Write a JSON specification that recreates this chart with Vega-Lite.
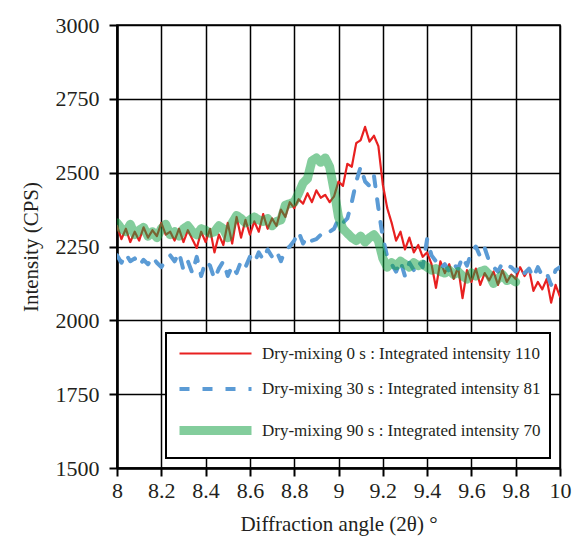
{
  "$schema": "https://vega.github.io/schema/vega-lite/v6.json",
  "width": 443,
  "height": 443,
  "autosize": {"type": "none"},
  "padding": {"left": 117, "top": 25, "right": 12, "bottom": 84},
  "background": "white",
  "config": {
    "font": "'Liberation Serif', 'Times New Roman', 'DejaVu Serif', serif",
    "view": {"stroke": "black", "strokeWidth": 1.5},
    "axis": {
      "grid": true, "gridColor": "black", "gridWidth": 1.5, "gridOpacity": 1,
      "domainColor": "black", "domainWidth": 2.5,
      "tickColor": "black", "tickWidth": 2, "tickSize": 8,
      "labelFont": "'Liberation Serif', 'Times New Roman', 'DejaVu Serif', serif", "labelFontSize": 22, "labelColor": "#231f20",
      "titleFont": "'Liberation Serif', 'Times New Roman', 'DejaVu Serif', serif", "titleFontSize": 21, "titleFontWeight": "normal", "titleColor": "#231f20"
    },
    "legend": {
      "orient": "bottom-right", "offset": 10, "padding": 9,
      "strokeColor": "black", "strokeWidth": 2, "fillColor": "white",
      "symbolType": "M-1,0H6.2", "symbolSize": 400, "labelOffset": 58,
      "labelFont": "'Liberation Serif', 'Times New Roman', 'DejaVu Serif', serif", "labelFontSize": 17, "labelColor": "#231f20",
      "rowPadding": 15, "labelLimit": 400
    }
  },
  "data": {"values": [
    {"s": "Dry-mixing 0 s : Integrated intensity 110", "x": 8.00, "y": 2320},
    {"s": "Dry-mixing 0 s : Integrated intensity 110", "x": 8.02, "y": 2275},
    {"s": "Dry-mixing 0 s : Integrated intensity 110", "x": 8.04, "y": 2310},
    {"s": "Dry-mixing 0 s : Integrated intensity 110", "x": 8.06, "y": 2265},
    {"s": "Dry-mixing 0 s : Integrated intensity 110", "x": 8.08, "y": 2300},
    {"s": "Dry-mixing 0 s : Integrated intensity 110", "x": 8.10, "y": 2270},
    {"s": "Dry-mixing 0 s : Integrated intensity 110", "x": 8.12, "y": 2315},
    {"s": "Dry-mixing 0 s : Integrated intensity 110", "x": 8.14, "y": 2280},
    {"s": "Dry-mixing 0 s : Integrated intensity 110", "x": 8.16, "y": 2305},
    {"s": "Dry-mixing 0 s : Integrated intensity 110", "x": 8.18, "y": 2285},
    {"s": "Dry-mixing 0 s : Integrated intensity 110", "x": 8.20, "y": 2330},
    {"s": "Dry-mixing 0 s : Integrated intensity 110", "x": 8.22, "y": 2290},
    {"s": "Dry-mixing 0 s : Integrated intensity 110", "x": 8.24, "y": 2300},
    {"s": "Dry-mixing 0 s : Integrated intensity 110", "x": 8.26, "y": 2270},
    {"s": "Dry-mixing 0 s : Integrated intensity 110", "x": 8.28, "y": 2310},
    {"s": "Dry-mixing 0 s : Integrated intensity 110", "x": 8.30, "y": 2265},
    {"s": "Dry-mixing 0 s : Integrated intensity 110", "x": 8.32, "y": 2305},
    {"s": "Dry-mixing 0 s : Integrated intensity 110", "x": 8.34, "y": 2275},
    {"s": "Dry-mixing 0 s : Integrated intensity 110", "x": 8.36, "y": 2245},
    {"s": "Dry-mixing 0 s : Integrated intensity 110", "x": 8.38, "y": 2300},
    {"s": "Dry-mixing 0 s : Integrated intensity 110", "x": 8.40, "y": 2265},
    {"s": "Dry-mixing 0 s : Integrated intensity 110", "x": 8.42, "y": 2310},
    {"s": "Dry-mixing 0 s : Integrated intensity 110", "x": 8.44, "y": 2230},
    {"s": "Dry-mixing 0 s : Integrated intensity 110", "x": 8.46, "y": 2290},
    {"s": "Dry-mixing 0 s : Integrated intensity 110", "x": 8.48, "y": 2255},
    {"s": "Dry-mixing 0 s : Integrated intensity 110", "x": 8.50, "y": 2330},
    {"s": "Dry-mixing 0 s : Integrated intensity 110", "x": 8.52, "y": 2260},
    {"s": "Dry-mixing 0 s : Integrated intensity 110", "x": 8.54, "y": 2350},
    {"s": "Dry-mixing 0 s : Integrated intensity 110", "x": 8.56, "y": 2280},
    {"s": "Dry-mixing 0 s : Integrated intensity 110", "x": 8.58, "y": 2340},
    {"s": "Dry-mixing 0 s : Integrated intensity 110", "x": 8.60, "y": 2290},
    {"s": "Dry-mixing 0 s : Integrated intensity 110", "x": 8.62, "y": 2335},
    {"s": "Dry-mixing 0 s : Integrated intensity 110", "x": 8.64, "y": 2300},
    {"s": "Dry-mixing 0 s : Integrated intensity 110", "x": 8.66, "y": 2360},
    {"s": "Dry-mixing 0 s : Integrated intensity 110", "x": 8.68, "y": 2310},
    {"s": "Dry-mixing 0 s : Integrated intensity 110", "x": 8.70, "y": 2345},
    {"s": "Dry-mixing 0 s : Integrated intensity 110", "x": 8.72, "y": 2320},
    {"s": "Dry-mixing 0 s : Integrated intensity 110", "x": 8.74, "y": 2375},
    {"s": "Dry-mixing 0 s : Integrated intensity 110", "x": 8.76, "y": 2350},
    {"s": "Dry-mixing 0 s : Integrated intensity 110", "x": 8.78, "y": 2400},
    {"s": "Dry-mixing 0 s : Integrated intensity 110", "x": 8.80, "y": 2380},
    {"s": "Dry-mixing 0 s : Integrated intensity 110", "x": 8.82, "y": 2410},
    {"s": "Dry-mixing 0 s : Integrated intensity 110", "x": 8.84, "y": 2395},
    {"s": "Dry-mixing 0 s : Integrated intensity 110", "x": 8.86, "y": 2430},
    {"s": "Dry-mixing 0 s : Integrated intensity 110", "x": 8.88, "y": 2400},
    {"s": "Dry-mixing 0 s : Integrated intensity 110", "x": 8.90, "y": 2440},
    {"s": "Dry-mixing 0 s : Integrated intensity 110", "x": 8.92, "y": 2415},
    {"s": "Dry-mixing 0 s : Integrated intensity 110", "x": 8.94, "y": 2425},
    {"s": "Dry-mixing 0 s : Integrated intensity 110", "x": 8.96, "y": 2400},
    {"s": "Dry-mixing 0 s : Integrated intensity 110", "x": 8.98, "y": 2420},
    {"s": "Dry-mixing 0 s : Integrated intensity 110", "x": 9.00, "y": 2470},
    {"s": "Dry-mixing 0 s : Integrated intensity 110", "x": 9.02, "y": 2455},
    {"s": "Dry-mixing 0 s : Integrated intensity 110", "x": 9.04, "y": 2530},
    {"s": "Dry-mixing 0 s : Integrated intensity 110", "x": 9.06, "y": 2520},
    {"s": "Dry-mixing 0 s : Integrated intensity 110", "x": 9.08, "y": 2600},
    {"s": "Dry-mixing 0 s : Integrated intensity 110", "x": 9.10, "y": 2610},
    {"s": "Dry-mixing 0 s : Integrated intensity 110", "x": 9.12, "y": 2655},
    {"s": "Dry-mixing 0 s : Integrated intensity 110", "x": 9.14, "y": 2605},
    {"s": "Dry-mixing 0 s : Integrated intensity 110", "x": 9.16, "y": 2625},
    {"s": "Dry-mixing 0 s : Integrated intensity 110", "x": 9.18, "y": 2590},
    {"s": "Dry-mixing 0 s : Integrated intensity 110", "x": 9.20, "y": 2460},
    {"s": "Dry-mixing 0 s : Integrated intensity 110", "x": 9.22, "y": 2380},
    {"s": "Dry-mixing 0 s : Integrated intensity 110", "x": 9.24, "y": 2330},
    {"s": "Dry-mixing 0 s : Integrated intensity 110", "x": 9.26, "y": 2270},
    {"s": "Dry-mixing 0 s : Integrated intensity 110", "x": 9.28, "y": 2300},
    {"s": "Dry-mixing 0 s : Integrated intensity 110", "x": 9.30, "y": 2240},
    {"s": "Dry-mixing 0 s : Integrated intensity 110", "x": 9.32, "y": 2280},
    {"s": "Dry-mixing 0 s : Integrated intensity 110", "x": 9.34, "y": 2230},
    {"s": "Dry-mixing 0 s : Integrated intensity 110", "x": 9.36, "y": 2255},
    {"s": "Dry-mixing 0 s : Integrated intensity 110", "x": 9.38, "y": 2215},
    {"s": "Dry-mixing 0 s : Integrated intensity 110", "x": 9.40, "y": 2230},
    {"s": "Dry-mixing 0 s : Integrated intensity 110", "x": 9.42, "y": 2190},
    {"s": "Dry-mixing 0 s : Integrated intensity 110", "x": 9.44, "y": 2110},
    {"s": "Dry-mixing 0 s : Integrated intensity 110", "x": 9.46, "y": 2200},
    {"s": "Dry-mixing 0 s : Integrated intensity 110", "x": 9.48, "y": 2160},
    {"s": "Dry-mixing 0 s : Integrated intensity 110", "x": 9.50, "y": 2190},
    {"s": "Dry-mixing 0 s : Integrated intensity 110", "x": 9.52, "y": 2140},
    {"s": "Dry-mixing 0 s : Integrated intensity 110", "x": 9.54, "y": 2180},
    {"s": "Dry-mixing 0 s : Integrated intensity 110", "x": 9.56, "y": 2075},
    {"s": "Dry-mixing 0 s : Integrated intensity 110", "x": 9.58, "y": 2170},
    {"s": "Dry-mixing 0 s : Integrated intensity 110", "x": 9.60, "y": 2130},
    {"s": "Dry-mixing 0 s : Integrated intensity 110", "x": 9.62, "y": 2175},
    {"s": "Dry-mixing 0 s : Integrated intensity 110", "x": 9.64, "y": 2120},
    {"s": "Dry-mixing 0 s : Integrated intensity 110", "x": 9.66, "y": 2160},
    {"s": "Dry-mixing 0 s : Integrated intensity 110", "x": 9.68, "y": 2135},
    {"s": "Dry-mixing 0 s : Integrated intensity 110", "x": 9.70, "y": 2165},
    {"s": "Dry-mixing 0 s : Integrated intensity 110", "x": 9.72, "y": 2120},
    {"s": "Dry-mixing 0 s : Integrated intensity 110", "x": 9.74, "y": 2170},
    {"s": "Dry-mixing 0 s : Integrated intensity 110", "x": 9.76, "y": 2130},
    {"s": "Dry-mixing 0 s : Integrated intensity 110", "x": 9.78, "y": 2155},
    {"s": "Dry-mixing 0 s : Integrated intensity 110", "x": 9.80, "y": 2140},
    {"s": "Dry-mixing 0 s : Integrated intensity 110", "x": 9.82, "y": 2180},
    {"s": "Dry-mixing 0 s : Integrated intensity 110", "x": 9.84, "y": 2150},
    {"s": "Dry-mixing 0 s : Integrated intensity 110", "x": 9.86, "y": 2175},
    {"s": "Dry-mixing 0 s : Integrated intensity 110", "x": 9.88, "y": 2100},
    {"s": "Dry-mixing 0 s : Integrated intensity 110", "x": 9.90, "y": 2130},
    {"s": "Dry-mixing 0 s : Integrated intensity 110", "x": 9.92, "y": 2105},
    {"s": "Dry-mixing 0 s : Integrated intensity 110", "x": 9.94, "y": 2140},
    {"s": "Dry-mixing 0 s : Integrated intensity 110", "x": 9.96, "y": 2060},
    {"s": "Dry-mixing 0 s : Integrated intensity 110", "x": 9.98, "y": 2120},
    {"s": "Dry-mixing 0 s : Integrated intensity 110", "x": 10.00, "y": 2080},
    {"s": "Dry-mixing 30 s : Integrated intensity 81", "x": 8.00, "y": 2220},
    {"s": "Dry-mixing 30 s : Integrated intensity 81", "x": 8.02, "y": 2195},
    {"s": "Dry-mixing 30 s : Integrated intensity 81", "x": 8.04, "y": 2225},
    {"s": "Dry-mixing 30 s : Integrated intensity 81", "x": 8.06, "y": 2200},
    {"s": "Dry-mixing 30 s : Integrated intensity 81", "x": 8.08, "y": 2210},
    {"s": "Dry-mixing 30 s : Integrated intensity 81", "x": 8.10, "y": 2185},
    {"s": "Dry-mixing 30 s : Integrated intensity 81", "x": 8.12, "y": 2205},
    {"s": "Dry-mixing 30 s : Integrated intensity 81", "x": 8.14, "y": 2190},
    {"s": "Dry-mixing 30 s : Integrated intensity 81", "x": 8.16, "y": 2215},
    {"s": "Dry-mixing 30 s : Integrated intensity 81", "x": 8.18, "y": 2195},
    {"s": "Dry-mixing 30 s : Integrated intensity 81", "x": 8.20, "y": 2180},
    {"s": "Dry-mixing 30 s : Integrated intensity 81", "x": 8.22, "y": 2205},
    {"s": "Dry-mixing 30 s : Integrated intensity 81", "x": 8.24, "y": 2220},
    {"s": "Dry-mixing 30 s : Integrated intensity 81", "x": 8.26, "y": 2200},
    {"s": "Dry-mixing 30 s : Integrated intensity 81", "x": 8.28, "y": 2230},
    {"s": "Dry-mixing 30 s : Integrated intensity 81", "x": 8.30, "y": 2170},
    {"s": "Dry-mixing 30 s : Integrated intensity 81", "x": 8.32, "y": 2200},
    {"s": "Dry-mixing 30 s : Integrated intensity 81", "x": 8.34, "y": 2160},
    {"s": "Dry-mixing 30 s : Integrated intensity 81", "x": 8.36, "y": 2215},
    {"s": "Dry-mixing 30 s : Integrated intensity 81", "x": 8.38, "y": 2150},
    {"s": "Dry-mixing 30 s : Integrated intensity 81", "x": 8.40, "y": 2200},
    {"s": "Dry-mixing 30 s : Integrated intensity 81", "x": 8.42, "y": 2185},
    {"s": "Dry-mixing 30 s : Integrated intensity 81", "x": 8.44, "y": 2140},
    {"s": "Dry-mixing 30 s : Integrated intensity 81", "x": 8.46, "y": 2175},
    {"s": "Dry-mixing 30 s : Integrated intensity 81", "x": 8.48, "y": 2200},
    {"s": "Dry-mixing 30 s : Integrated intensity 81", "x": 8.50, "y": 2150},
    {"s": "Dry-mixing 30 s : Integrated intensity 81", "x": 8.52, "y": 2185},
    {"s": "Dry-mixing 30 s : Integrated intensity 81", "x": 8.54, "y": 2160},
    {"s": "Dry-mixing 30 s : Integrated intensity 81", "x": 8.56, "y": 2200},
    {"s": "Dry-mixing 30 s : Integrated intensity 81", "x": 8.58, "y": 2180},
    {"s": "Dry-mixing 30 s : Integrated intensity 81", "x": 8.60, "y": 2215},
    {"s": "Dry-mixing 30 s : Integrated intensity 81", "x": 8.62, "y": 2195},
    {"s": "Dry-mixing 30 s : Integrated intensity 81", "x": 8.64, "y": 2230},
    {"s": "Dry-mixing 30 s : Integrated intensity 81", "x": 8.66, "y": 2205},
    {"s": "Dry-mixing 30 s : Integrated intensity 81", "x": 8.68, "y": 2240},
    {"s": "Dry-mixing 30 s : Integrated intensity 81", "x": 8.70, "y": 2215},
    {"s": "Dry-mixing 30 s : Integrated intensity 81", "x": 8.72, "y": 2235},
    {"s": "Dry-mixing 30 s : Integrated intensity 81", "x": 8.74, "y": 2200},
    {"s": "Dry-mixing 30 s : Integrated intensity 81", "x": 8.76, "y": 2240},
    {"s": "Dry-mixing 30 s : Integrated intensity 81", "x": 8.78, "y": 2250},
    {"s": "Dry-mixing 30 s : Integrated intensity 81", "x": 8.80, "y": 2270},
    {"s": "Dry-mixing 30 s : Integrated intensity 81", "x": 8.82, "y": 2300},
    {"s": "Dry-mixing 30 s : Integrated intensity 81", "x": 8.84, "y": 2260},
    {"s": "Dry-mixing 30 s : Integrated intensity 81", "x": 8.86, "y": 2285},
    {"s": "Dry-mixing 30 s : Integrated intensity 81", "x": 8.88, "y": 2270},
    {"s": "Dry-mixing 30 s : Integrated intensity 81", "x": 8.90, "y": 2275},
    {"s": "Dry-mixing 30 s : Integrated intensity 81", "x": 8.92, "y": 2290},
    {"s": "Dry-mixing 30 s : Integrated intensity 81", "x": 8.94, "y": 2285},
    {"s": "Dry-mixing 30 s : Integrated intensity 81", "x": 8.96, "y": 2300},
    {"s": "Dry-mixing 30 s : Integrated intensity 81", "x": 8.98, "y": 2310},
    {"s": "Dry-mixing 30 s : Integrated intensity 81", "x": 9.00, "y": 2345},
    {"s": "Dry-mixing 30 s : Integrated intensity 81", "x": 9.02, "y": 2330},
    {"s": "Dry-mixing 30 s : Integrated intensity 81", "x": 9.04, "y": 2345},
    {"s": "Dry-mixing 30 s : Integrated intensity 81", "x": 9.06, "y": 2400},
    {"s": "Dry-mixing 30 s : Integrated intensity 81", "x": 9.08, "y": 2470},
    {"s": "Dry-mixing 30 s : Integrated intensity 81", "x": 9.10, "y": 2520},
    {"s": "Dry-mixing 30 s : Integrated intensity 81", "x": 9.12, "y": 2470},
    {"s": "Dry-mixing 30 s : Integrated intensity 81", "x": 9.14, "y": 2455},
    {"s": "Dry-mixing 30 s : Integrated intensity 81", "x": 9.16, "y": 2490},
    {"s": "Dry-mixing 30 s : Integrated intensity 81", "x": 9.18, "y": 2380},
    {"s": "Dry-mixing 30 s : Integrated intensity 81", "x": 9.20, "y": 2280},
    {"s": "Dry-mixing 30 s : Integrated intensity 81", "x": 9.22, "y": 2215},
    {"s": "Dry-mixing 30 s : Integrated intensity 81", "x": 9.24, "y": 2190},
    {"s": "Dry-mixing 30 s : Integrated intensity 81", "x": 9.26, "y": 2165},
    {"s": "Dry-mixing 30 s : Integrated intensity 81", "x": 9.28, "y": 2200},
    {"s": "Dry-mixing 30 s : Integrated intensity 81", "x": 9.30, "y": 2150},
    {"s": "Dry-mixing 30 s : Integrated intensity 81", "x": 9.32, "y": 2195},
    {"s": "Dry-mixing 30 s : Integrated intensity 81", "x": 9.34, "y": 2170},
    {"s": "Dry-mixing 30 s : Integrated intensity 81", "x": 9.36, "y": 2200},
    {"s": "Dry-mixing 30 s : Integrated intensity 81", "x": 9.38, "y": 2180},
    {"s": "Dry-mixing 30 s : Integrated intensity 81", "x": 9.40, "y": 2275},
    {"s": "Dry-mixing 30 s : Integrated intensity 81", "x": 9.42, "y": 2220},
    {"s": "Dry-mixing 30 s : Integrated intensity 81", "x": 9.44, "y": 2200},
    {"s": "Dry-mixing 30 s : Integrated intensity 81", "x": 9.46, "y": 2175},
    {"s": "Dry-mixing 30 s : Integrated intensity 81", "x": 9.48, "y": 2190},
    {"s": "Dry-mixing 30 s : Integrated intensity 81", "x": 9.50, "y": 2165},
    {"s": "Dry-mixing 30 s : Integrated intensity 81", "x": 9.52, "y": 2190},
    {"s": "Dry-mixing 30 s : Integrated intensity 81", "x": 9.54, "y": 2175},
    {"s": "Dry-mixing 30 s : Integrated intensity 81", "x": 9.56, "y": 2215},
    {"s": "Dry-mixing 30 s : Integrated intensity 81", "x": 9.58, "y": 2185},
    {"s": "Dry-mixing 30 s : Integrated intensity 81", "x": 9.60, "y": 2230},
    {"s": "Dry-mixing 30 s : Integrated intensity 81", "x": 9.62, "y": 2250},
    {"s": "Dry-mixing 30 s : Integrated intensity 81", "x": 9.64, "y": 2215},
    {"s": "Dry-mixing 30 s : Integrated intensity 81", "x": 9.66, "y": 2245},
    {"s": "Dry-mixing 30 s : Integrated intensity 81", "x": 9.68, "y": 2200},
    {"s": "Dry-mixing 30 s : Integrated intensity 81", "x": 9.70, "y": 2180},
    {"s": "Dry-mixing 30 s : Integrated intensity 81", "x": 9.72, "y": 2165},
    {"s": "Dry-mixing 30 s : Integrated intensity 81", "x": 9.74, "y": 2195},
    {"s": "Dry-mixing 30 s : Integrated intensity 81", "x": 9.76, "y": 2185},
    {"s": "Dry-mixing 30 s : Integrated intensity 81", "x": 9.78, "y": 2180},
    {"s": "Dry-mixing 30 s : Integrated intensity 81", "x": 9.80, "y": 2165},
    {"s": "Dry-mixing 30 s : Integrated intensity 81", "x": 9.82, "y": 2185},
    {"s": "Dry-mixing 30 s : Integrated intensity 81", "x": 9.84, "y": 2160},
    {"s": "Dry-mixing 30 s : Integrated intensity 81", "x": 9.86, "y": 2175},
    {"s": "Dry-mixing 30 s : Integrated intensity 81", "x": 9.88, "y": 2145},
    {"s": "Dry-mixing 30 s : Integrated intensity 81", "x": 9.90, "y": 2180},
    {"s": "Dry-mixing 30 s : Integrated intensity 81", "x": 9.92, "y": 2150},
    {"s": "Dry-mixing 30 s : Integrated intensity 81", "x": 9.94, "y": 2160},
    {"s": "Dry-mixing 30 s : Integrated intensity 81", "x": 9.96, "y": 2120},
    {"s": "Dry-mixing 30 s : Integrated intensity 81", "x": 9.98, "y": 2170},
    {"s": "Dry-mixing 30 s : Integrated intensity 81", "x": 10.00, "y": 2180},
    {"s": "Dry-mixing 90 s : Integrated intensity 70", "x": 8.00, "y": 2330},
    {"s": "Dry-mixing 90 s : Integrated intensity 70", "x": 8.02, "y": 2310},
    {"s": "Dry-mixing 90 s : Integrated intensity 70", "x": 8.04, "y": 2300},
    {"s": "Dry-mixing 90 s : Integrated intensity 70", "x": 8.06, "y": 2325},
    {"s": "Dry-mixing 90 s : Integrated intensity 70", "x": 8.08, "y": 2290},
    {"s": "Dry-mixing 90 s : Integrated intensity 70", "x": 8.10, "y": 2305},
    {"s": "Dry-mixing 90 s : Integrated intensity 70", "x": 8.12, "y": 2315},
    {"s": "Dry-mixing 90 s : Integrated intensity 70", "x": 8.14, "y": 2285},
    {"s": "Dry-mixing 90 s : Integrated intensity 70", "x": 8.16, "y": 2300},
    {"s": "Dry-mixing 90 s : Integrated intensity 70", "x": 8.18, "y": 2280},
    {"s": "Dry-mixing 90 s : Integrated intensity 70", "x": 8.20, "y": 2310},
    {"s": "Dry-mixing 90 s : Integrated intensity 70", "x": 8.22, "y": 2325},
    {"s": "Dry-mixing 90 s : Integrated intensity 70", "x": 8.24, "y": 2290},
    {"s": "Dry-mixing 90 s : Integrated intensity 70", "x": 8.26, "y": 2300},
    {"s": "Dry-mixing 90 s : Integrated intensity 70", "x": 8.28, "y": 2285},
    {"s": "Dry-mixing 90 s : Integrated intensity 70", "x": 8.30, "y": 2310},
    {"s": "Dry-mixing 90 s : Integrated intensity 70", "x": 8.32, "y": 2320},
    {"s": "Dry-mixing 90 s : Integrated intensity 70", "x": 8.34, "y": 2300},
    {"s": "Dry-mixing 90 s : Integrated intensity 70", "x": 8.36, "y": 2290},
    {"s": "Dry-mixing 90 s : Integrated intensity 70", "x": 8.38, "y": 2310},
    {"s": "Dry-mixing 90 s : Integrated intensity 70", "x": 8.40, "y": 2305},
    {"s": "Dry-mixing 90 s : Integrated intensity 70", "x": 8.42, "y": 2295},
    {"s": "Dry-mixing 90 s : Integrated intensity 70", "x": 8.44, "y": 2300},
    {"s": "Dry-mixing 90 s : Integrated intensity 70", "x": 8.46, "y": 2320},
    {"s": "Dry-mixing 90 s : Integrated intensity 70", "x": 8.48, "y": 2310},
    {"s": "Dry-mixing 90 s : Integrated intensity 70", "x": 8.50, "y": 2280},
    {"s": "Dry-mixing 90 s : Integrated intensity 70", "x": 8.52, "y": 2330},
    {"s": "Dry-mixing 90 s : Integrated intensity 70", "x": 8.54, "y": 2355},
    {"s": "Dry-mixing 90 s : Integrated intensity 70", "x": 8.56, "y": 2345},
    {"s": "Dry-mixing 90 s : Integrated intensity 70", "x": 8.58, "y": 2330},
    {"s": "Dry-mixing 90 s : Integrated intensity 70", "x": 8.60, "y": 2340},
    {"s": "Dry-mixing 90 s : Integrated intensity 70", "x": 8.62, "y": 2350},
    {"s": "Dry-mixing 90 s : Integrated intensity 70", "x": 8.64, "y": 2340},
    {"s": "Dry-mixing 90 s : Integrated intensity 70", "x": 8.66, "y": 2335},
    {"s": "Dry-mixing 90 s : Integrated intensity 70", "x": 8.68, "y": 2345},
    {"s": "Dry-mixing 90 s : Integrated intensity 70", "x": 8.70, "y": 2320},
    {"s": "Dry-mixing 90 s : Integrated intensity 70", "x": 8.72, "y": 2335},
    {"s": "Dry-mixing 90 s : Integrated intensity 70", "x": 8.74, "y": 2340},
    {"s": "Dry-mixing 90 s : Integrated intensity 70", "x": 8.76, "y": 2390},
    {"s": "Dry-mixing 90 s : Integrated intensity 70", "x": 8.78, "y": 2395},
    {"s": "Dry-mixing 90 s : Integrated intensity 70", "x": 8.80, "y": 2400},
    {"s": "Dry-mixing 90 s : Integrated intensity 70", "x": 8.82, "y": 2430},
    {"s": "Dry-mixing 90 s : Integrated intensity 70", "x": 8.84, "y": 2465},
    {"s": "Dry-mixing 90 s : Integrated intensity 70", "x": 8.86, "y": 2480},
    {"s": "Dry-mixing 90 s : Integrated intensity 70", "x": 8.88, "y": 2540},
    {"s": "Dry-mixing 90 s : Integrated intensity 70", "x": 8.90, "y": 2550},
    {"s": "Dry-mixing 90 s : Integrated intensity 70", "x": 8.92, "y": 2535},
    {"s": "Dry-mixing 90 s : Integrated intensity 70", "x": 8.94, "y": 2550},
    {"s": "Dry-mixing 90 s : Integrated intensity 70", "x": 8.96, "y": 2520},
    {"s": "Dry-mixing 90 s : Integrated intensity 70", "x": 8.98, "y": 2440},
    {"s": "Dry-mixing 90 s : Integrated intensity 70", "x": 9.00, "y": 2350},
    {"s": "Dry-mixing 90 s : Integrated intensity 70", "x": 9.02, "y": 2310},
    {"s": "Dry-mixing 90 s : Integrated intensity 70", "x": 9.04, "y": 2295},
    {"s": "Dry-mixing 90 s : Integrated intensity 70", "x": 9.06, "y": 2280},
    {"s": "Dry-mixing 90 s : Integrated intensity 70", "x": 9.08, "y": 2270},
    {"s": "Dry-mixing 90 s : Integrated intensity 70", "x": 9.10, "y": 2285},
    {"s": "Dry-mixing 90 s : Integrated intensity 70", "x": 9.12, "y": 2265},
    {"s": "Dry-mixing 90 s : Integrated intensity 70", "x": 9.14, "y": 2280},
    {"s": "Dry-mixing 90 s : Integrated intensity 70", "x": 9.16, "y": 2290},
    {"s": "Dry-mixing 90 s : Integrated intensity 70", "x": 9.18, "y": 2270},
    {"s": "Dry-mixing 90 s : Integrated intensity 70", "x": 9.20, "y": 2210},
    {"s": "Dry-mixing 90 s : Integrated intensity 70", "x": 9.22, "y": 2180},
    {"s": "Dry-mixing 90 s : Integrated intensity 70", "x": 9.24, "y": 2195},
    {"s": "Dry-mixing 90 s : Integrated intensity 70", "x": 9.26, "y": 2185},
    {"s": "Dry-mixing 90 s : Integrated intensity 70", "x": 9.28, "y": 2200},
    {"s": "Dry-mixing 90 s : Integrated intensity 70", "x": 9.30, "y": 2190},
    {"s": "Dry-mixing 90 s : Integrated intensity 70", "x": 9.32, "y": 2180},
    {"s": "Dry-mixing 90 s : Integrated intensity 70", "x": 9.34, "y": 2195},
    {"s": "Dry-mixing 90 s : Integrated intensity 70", "x": 9.36, "y": 2185},
    {"s": "Dry-mixing 90 s : Integrated intensity 70", "x": 9.38, "y": 2190},
    {"s": "Dry-mixing 90 s : Integrated intensity 70", "x": 9.40, "y": 2180},
    {"s": "Dry-mixing 90 s : Integrated intensity 70", "x": 9.42, "y": 2170},
    {"s": "Dry-mixing 90 s : Integrated intensity 70", "x": 9.44, "y": 2175},
    {"s": "Dry-mixing 90 s : Integrated intensity 70", "x": 9.46, "y": 2165},
    {"s": "Dry-mixing 90 s : Integrated intensity 70", "x": 9.48, "y": 2160},
    {"s": "Dry-mixing 90 s : Integrated intensity 70", "x": 9.50, "y": 2170},
    {"s": "Dry-mixing 90 s : Integrated intensity 70", "x": 9.52, "y": 2155},
    {"s": "Dry-mixing 90 s : Integrated intensity 70", "x": 9.54, "y": 2165},
    {"s": "Dry-mixing 90 s : Integrated intensity 70", "x": 9.56, "y": 2150},
    {"s": "Dry-mixing 90 s : Integrated intensity 70", "x": 9.58, "y": 2140},
    {"s": "Dry-mixing 90 s : Integrated intensity 70", "x": 9.60, "y": 2160},
    {"s": "Dry-mixing 90 s : Integrated intensity 70", "x": 9.62, "y": 2150},
    {"s": "Dry-mixing 90 s : Integrated intensity 70", "x": 9.64, "y": 2165},
    {"s": "Dry-mixing 90 s : Integrated intensity 70", "x": 9.66, "y": 2170},
    {"s": "Dry-mixing 90 s : Integrated intensity 70", "x": 9.68, "y": 2155},
    {"s": "Dry-mixing 90 s : Integrated intensity 70", "x": 9.70, "y": 2125},
    {"s": "Dry-mixing 90 s : Integrated intensity 70", "x": 9.72, "y": 2140},
    {"s": "Dry-mixing 90 s : Integrated intensity 70", "x": 9.74, "y": 2155},
    {"s": "Dry-mixing 90 s : Integrated intensity 70", "x": 9.76, "y": 2135},
    {"s": "Dry-mixing 90 s : Integrated intensity 70", "x": 9.78, "y": 2140},
    {"s": "Dry-mixing 90 s : Integrated intensity 70", "x": 9.80, "y": 2130}
  ]},
  "mark": {"type": "line", "strokeCap": "round", "strokeJoin": "round", "clip": true},
  "encoding": {
    "x": {
      "field": "x", "type": "quantitative",
      "scale": {"domain": [8, 10], "nice": false, "zero": false},
      "axis": {"values": [8, 8.2, 8.4, 8.6, 8.8, 9, 9.2, 9.4, 9.6, 9.8, 10], "format": "~g", "labelPadding": 4, "title": "Diffraction angle (2θ) °", "titlePadding": 12, "labelFlush": false}
    },
    "y": {
      "field": "y", "type": "quantitative",
      "scale": {"domain": [1500, 3000], "nice": false, "zero": false},
      "axis": {"values": [1500, 1750, 2000, 2250, 2500, 2750, 3000], "format": "d", "labelPadding": 10, "title": "Intensity (CPS)", "titlePadding": 14, "labelFlush": false}
    },
    "color": {
      "field": "s", "type": "nominal",
      "scale": {
        "domain": ["Dry-mixing 0 s : Integrated intensity 110", "Dry-mixing 30 s : Integrated intensity 81", "Dry-mixing 90 s : Integrated intensity 70"],
        "range": ["#e82020", "#5b9bd5", "#14a044"]
      },
      "legend": {
        "title": null,
        "encode": {"symbols": {"update": {"strokeOpacity": {"signal": "indexof(datum.value, '90 s') >= 0 ? 0.53 : 1"}}}}
      }
    },
    "strokeDash": {
      "field": "s", "type": "nominal",
      "scale": {
        "domain": ["Dry-mixing 0 s : Integrated intensity 110", "Dry-mixing 30 s : Integrated intensity 81", "Dry-mixing 90 s : Integrated intensity 70"],
        "range": [[1, 0], [10, 13], [1, 0]]
      },
      "legend": {"title": null}
    },
    "strokeWidth": {
      "field": "s", "type": "nominal",
      "scale": {
        "type": "ordinal",
        "domain": ["Dry-mixing 0 s : Integrated intensity 110", "Dry-mixing 30 s : Integrated intensity 81", "Dry-mixing 90 s : Integrated intensity 70"],
        "range": [2.2, 4, 9]
      },
      "legend": {"title": null}
    },
    "strokeOpacity": {
      "condition": {"test": "indexof(datum.s, '90 s') >= 0", "value": 0.53},
      "value": 1
    }
  }
}
